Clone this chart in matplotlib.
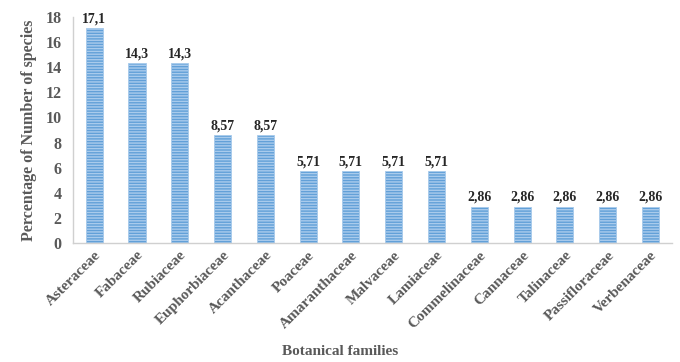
import matplotlib.pyplot as plt
import numpy as np

families = ["Asteraceae", "Fabaceae", "Rubiaceae", "Euphorbiaceae", "Acanthaceae",
            "Poaceae", "Amaranthaceae", "Malvaceae", "Lamiaceae", "Commelinaceae",
            "Cannaceae", "Talinaceae", "Passifloraceae", "Verbenaceae"]
percent = [17.1, 14.3, 14.3, 8.57, 8.57, 5.71, 5.71, 5.71, 5.71,
           2.86, 2.86, 2.86, 2.86, 2.86]
labels = ["17,1", "14,3", "14,3", "8,57", "8,57", "5,71", "5,71", "5,71", "5,71",
          "2,86", "2,86", "2,86", "2,86", "2,86"]

plt.rcParams['font.family'] = 'Liberation Serif'
plt.rcParams['font.weight'] = 'bold'
plt.rcParams['hatch.linewidth'] = 1.0
plt.rcParams['hatch.color'] = '#a9cbec'

grey = "#595959"

fig = plt.figure(figsize=(6.8, 3.62), dpi=100)
ax = fig.add_axes([0.107, 0.329, 0.881, 0.624])

x = np.arange(len(families))
ax.bar(x, percent, width=0.4, color="#62a0d8", edgecolor="#a9cbec",
       linewidth=0.6, hatch="------")

for xi, v, lab in zip(x, percent, labels):
    ax.text(xi, v + 0.25, lab, ha="center", va="bottom", fontsize=10,
            fontweight="bold", color="#262626")

ax.set_xlim(-0.5, len(families) - 0.5)
ax.set_ylim(0, 18)
ax.set_yticks(range(0, 19, 2))
ax.tick_params(axis="y", length=0, labelsize=11.5, labelcolor=grey, pad=8)
ax.tick_params(axis="x", length=0, labelsize=11, labelcolor=grey, pad=4)
ax.set_xticks(x)
ax.set_xticklabels(families, rotation=45, ha="right", rotation_mode="anchor")

for s in ["top", "right"]:
    ax.spines[s].set_visible(False)
for s in ["left", "bottom"]:
    ax.spines[s].set_color("#d0d0d0")
    ax.spines[s].set_linewidth(1.0)

ax.set_ylabel("Percentage of Number of species", fontsize=11.5, color=grey,
              fontweight="bold", labelpad=6)
fig.text(0.5, 0.02, "Botanical families", ha="center", fontsize=11,
         fontweight="bold", color=grey)

fig.savefig("out.png", dpi=100)
